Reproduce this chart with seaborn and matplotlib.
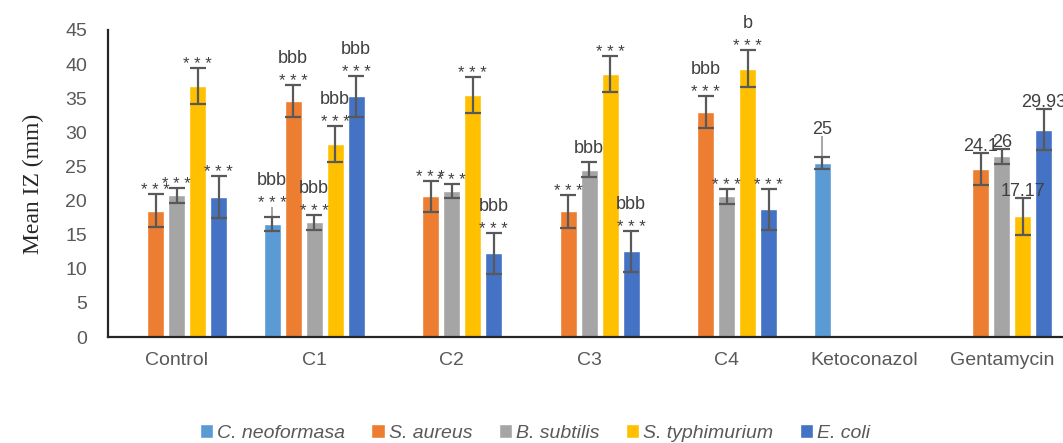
import numpy as np
import pandas as pd
import matplotlib
matplotlib.use("Agg")
import matplotlib.pyplot as plt
import seaborn as sns

groups = ["Control", "C1", "C2", "C3", "C4", "Ketoconazol", "Gentamycin"]
strains = ["C. neoformasa", "S. aureus", "B. subtilis", "S. typhimurium", "E. coli"]
colors = ["#5B9BD5", "#ED7D31", "#A5A5A5", "#FFC000", "#4472C4"]

nan = np.nan
# mean inhibition zone (mm), one list per strain, in group order
neoformasa = [nan, 16.6, nan, nan, nan, 25.5, nan]
aureus = [18.5, 34.6, 20.6, 18.4, 33.0, nan, 24.6]
subtilis = [20.8, 16.8, 21.4, 24.5, 20.6, nan, 26.5]
typhimurium = [36.8, 28.3, 35.5, 38.6, 39.3, nan, 17.7]
coli = [20.5, 35.3, 12.3, 12.6, 18.7, nan, 30.4]

# +/- error
neoformasa_err = [nan, 1.0, nan, nan, nan, 0.9, nan]
aureus_err = [2.4, 2.35, 2.3, 2.4, 2.3, nan, 2.3]
subtilis_err = [1.1, 1.1, 1.05, 1.1, 1.1, nan, 1.1]
typhimurium_err = [2.65, 2.7, 2.65, 2.65, 2.7, nan, 2.7]
coli_err = [3.05, 3.0, 3.0, 3.0, 3.0, nan, 3.0]
# faint upper whisker seen on the C. neoformasa bars
neoformasa_hi = [nan, 2.4, nan, nan, nan, 4.0, nan]

# labels just above the error bars
lab_neo = ["", "***", "", "", "", "25", ""]
lab_aureus = ["***", "***", "***", "***", "***", "", "24.1"]
lab_subtilis = ["***", "***", "***", "bbb", "***", "", "26"]
lab_typh = ["***", "***", "***", "***", "***", "", "17.17"]
lab_coli = ["***", "***", "***", "***", "***", "", "29.93"]
# second row of labels
top_neo = ["", "bbb", "", "", "", "", ""]
top_aureus = ["", "bbb", "", "", "bbb", "", ""]
top_subtilis = ["", "bbb", "", "", "", "", ""]
top_typh = ["", "bbb", "", "", "b", "", ""]
top_coli = ["", "bbb", "bbb", "bbb", "", "", ""]

values = [neoformasa, aureus, subtilis, typhimurium, coli]
errors = [neoformasa_err, aureus_err, subtilis_err, typhimurium_err, coli_err]
labels = [lab_neo, lab_aureus, lab_subtilis, lab_typh, lab_coli]
tops = [top_neo, top_aureus, top_subtilis, top_typh, top_coli]

rows = []
for s, vals in zip(strains, values):
    for g, v in zip(groups, vals):
        rows.append({"group": g, "strain": s, "iz": v})
df = pd.DataFrame(rows)

sns.set_style("white")
plt.rcParams["font.family"] = ["Liberation Sans", "DejaVu Sans"]

fig = plt.figure(figsize=(10.63, 4.43), dpi=100)
ax = fig.add_axes([108 / 1063, 106 / 443, 962.5 / 1063, 307 / 443])

width = 0.764
sns.barplot(data=df, x="group", y="iz", hue="strain", order=groups,
            hue_order=strains, palette=colors, width=width, gap=0.19,
            errorbar=None, saturation=1, ax=ax)

pitch = width / len(strains)
ann_color = "#404040"
for j in range(len(strains)):
    for i in range(len(groups)):
        v = values[j][i]
        if np.isnan(v):
            continue
        x = i + (j - 2) * pitch
        e = errors[j][i]
        ax.errorbar(x, v, yerr=e, fmt="none", ecolor="#595959",
                    elinewidth=1.6, capsize=6, capthick=1.6, zorder=3)
        top = v + e
        if j == 0 and not np.isnan(neoformasa_hi[i]):
            ax.vlines(x, v + e, v + neoformasa_hi[i], color="#A6A6A6",
                      lw=1.4, zorder=2)
            top = v + neoformasa_hi[i]
        lab = labels[j][i]
        if lab:
            if lab == "***":
                lab, off = "* * *", -1
            elif lab[0].isdigit():
                off = 2
            else:
                off = 9
            ax.annotate(lab, (x, top), xytext=(0, off),
                        textcoords="offset pixels", ha="center",
                        va="baseline", fontsize=13 if off != -1 else 12,
                        color=ann_color)
        t = tops[j][i]
        if t:
            ax.annotate(t, (x, top), xytext=(0, 22),
                        textcoords="offset pixels", ha="center",
                        va="baseline", fontsize=13, color=ann_color)

ax.set_xlim(-0.5, len(groups) - 0.5)
ax.set_ylim(0, 45)
ax.set_yticks(range(0, 46, 5))
ax.set_xlabel("")
ax.set_ylabel("Mean IZ (mm)", family=["Liberation Serif"], fontsize=17)
ax.yaxis.set_label_coords(-0.066, 0.5)
ax.tick_params(axis="y", length=0, pad=15, labelsize=14, labelcolor="#595959")
ax.tick_params(axis="x", length=0, pad=11, labelsize=14, labelcolor="#595959")
for side in ["top", "right"]:
    ax.spines[side].set_visible(False)
for side in ["left", "bottom"]:
    ax.spines[side].set_color("#262626")
    ax.spines[side].set_linewidth(1.6)

sns.move_legend(ax, "center", bbox_to_anchor=(0.4436, -0.3127), ncol=5,
                frameon=False, title=None, handlelength=0.7, handleheight=0.7,
                handletextpad=0.2, columnspacing=1.35,
                prop={"style": "italic", "size": 14})
for txt in ax.get_legend().get_texts():
    txt.set_color("#595959")

fig.savefig("out.png", dpi=100)
